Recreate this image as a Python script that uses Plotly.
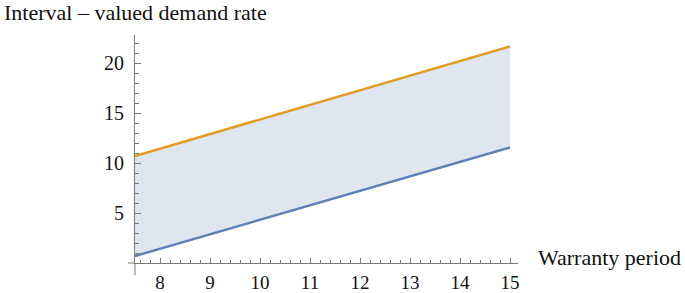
import plotly.graph_objects as go

# Data
warranty_period = [7.5, 15.0]
lower_rate = [0.7, 11.55]
upper_rate = [10.7, 21.65]
x_tick_vals = [8, 9, 10, 11, 12, 13, 14, 15]
y_tick_vals = [5, 10, 15, 20]

BLUE = "#5E81B5"
ORANGE = "#E19C24"
FILL = "#DFE6F0"
AXIS = "#7a7a7a"
FONT = "Liberation Serif"
TXT = "#111111"

W, H = 685, 293
L, R, T, B = 135, 167, 35, 30
pw, ph = W - L - R, H - T - B

def px(xp):
    return (xp - L) / pw

def py(yp):
    return (H - B - yp) / ph

fig = go.Figure()
fig.add_trace(go.Scatter(x=warranty_period, y=lower_rate, mode="lines",
                         line=dict(color=BLUE, width=2.5), showlegend=False,
                         hoverinfo="skip"))
fig.add_trace(go.Scatter(x=warranty_period, y=upper_rate, mode="lines",
                         line=dict(color=ORANGE, width=2.5), fill="tonexty",
                         fillcolor=FILL, showlegend=False, hoverinfo="skip"))

fig.update_layout(
    width=W, height=H,
    margin=dict(l=L, r=R, t=T, b=B, pad=0, autoexpand=False),
    paper_bgcolor="white", plot_bgcolor="white",
    font=dict(family=FONT, size=20, color=TXT),
    xaxis=dict(range=[7.5, 15.16], tickvals=x_tick_vals, showgrid=False,
               automargin=False, tickfont=dict(size=19),
               zeroline=False, showline=True, linecolor=AXIS, linewidth=1,
               ticks="inside", ticklen=5, tickcolor=AXIS, ticklabelstandoff=2,
               minor=dict(dtick=0.2, tick0=0, ticks="inside", ticklen=3,
                          tickcolor=AXIS, showgrid=False),
               fixedrange=True),
    yaxis=dict(range=[0, 22.8], tickvals=y_tick_vals, showgrid=False,
               automargin=False,
               zeroline=False, showline=True, linecolor=AXIS, linewidth=1,
               ticks="inside", ticklen=6, tickcolor=AXIS, ticklabelstandoff=6,
               minor=dict(dtick=1, tick0=0, ticks="inside", ticklen=4,
                          tickcolor=AXIS, showgrid=False),
               fixedrange=True),
    shapes=[
        dict(type="line", xref="paper", yref="paper", x0=px(128), x1=px(135),
             y0=py(263), y1=py(263), line=dict(color=AXIS, width=1)),
        dict(type="line", xref="paper", yref="paper", x0=px(135), x1=px(135),
             y0=py(263), y1=py(275), line=dict(color=AXIS, width=1)),
    ],
    annotations=[
        dict(text="Interval – valued demand rate", xref="paper", yref="paper",
             x=px(2), y=py(12), xanchor="left", yanchor="middle",
             showarrow=False, font=dict(family=FONT, size=22, color=TXT)),
        dict(text="Warranty period", xref="paper", yref="paper",
             x=px(536), y=py(257), xanchor="left", yanchor="middle",
             showarrow=False, font=dict(family=FONT, size=22, color=TXT)),
    ],
)

fig.write_html("out.html", config={"displayModeBar": False},
               post_script="document.body.style.margin='0px';document.body.style.overflow='hidden';")
